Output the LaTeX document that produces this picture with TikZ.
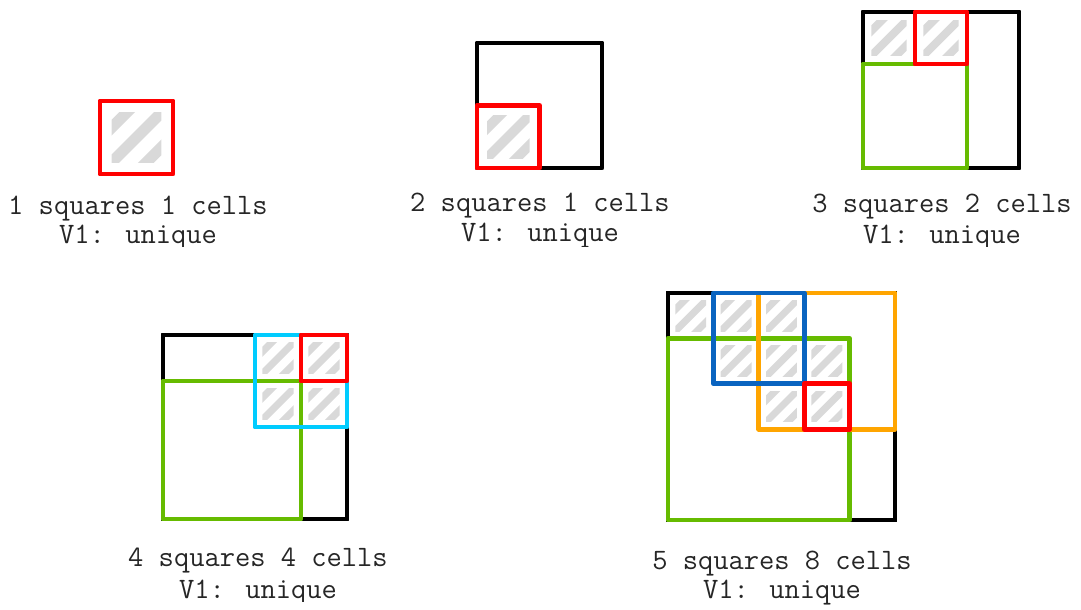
\documentclass[tikz,border=0pt]{standalone}
\usepackage{fontspec}

\definecolor{sqred}{HTML}{FF0000}
\definecolor{sqgreen}{HTML}{66BB00}
\definecolor{sqcyan}{HTML}{00CCFF}
\definecolor{sqblue}{HTML}{0A64C0}
\definecolor{sqorange}{HTML}{FFA500}
\definecolor{hatchgray}{HTML}{D9D9D9}

\tikzset{
  sq/.style = {line width = 4.2pt, line join = round},
  caption/.style = {anchor = base, inner sep = 0pt, text = black!85,
                    font = \fontsize{25.3}{29}\selectfont\ttfamily},
}

% hatched cell, top left corner at (#1,#2) in cell units
\newcommand{\hcell}[2]{%
  \begin{scope}
    \clip (#1+0.16,#2+0.16) rectangle (#1+0.84,#2+0.84);
    \foreach \a/\b in {-0.585/-0.367, -0.109/0.109, 0.367/0.585}
      \fill[hatchgray] ({#1+0.5+\a/2-1},{#2+0.5+\a/2+1}) -- ({#1+0.5+\a/2+1},{#2+0.5+\a/2-1})
                    -- ({#1+0.5+\b/2+1},{#2+0.5+\b/2-1}) -- ({#1+0.5+\b/2-1},{#2+0.5+\b/2+1}) -- cycle;
  \end{scope}}

\begin{document}
\begin{tikzpicture}[x = 0.03cm, y = -0.03cm]
        \useasboundingbox (0,0) rectangle (1081,609);

        % 1 square
        \begin{scope}[shift = {(100,101)}, x = 2.19cm, y = -2.19cm]
            \hcell{0}{0}
            \draw[sq, sqred] (0,0) rectangle (1,1);
        \end{scope}

        % 2 squares
        \begin{scope}[shift = {(477,43)}, x = 1.875cm, y = -1.875cm]
            \hcell{0}{1}
            \draw[sq, black] (0,0) rectangle (2,2);
            \draw[sq, sqred] (0,1) rectangle (1,2);
        \end{scope}

        % 3 squares
        \begin{scope}[shift = {(863,12)}, x = 1.56cm, y = -1.56cm]
            \foreach \i in {0,1} \hcell{\i}{0}
            \draw[sq, black]   (0,0) rectangle (3,3);
            \draw[sq, sqgreen] (0,1) rectangle (2,3);
            \draw[sq, sqred]   (1,0) rectangle (2,1);
        \end{scope}

        % 4 squares
        \begin{scope}[shift = {(163,335)}, x = 1.38cm, y = -1.38cm]
            \foreach \i/\j in {2/0, 3/0, 2/1, 3/1} \hcell{\i}{\j}
            \draw[sq, black]   (0,0) rectangle (4,4);
            \draw[sq, sqgreen] (0,1) rectangle (3,4);
            \draw[sq, sqcyan]  (2,0) rectangle (4,2);
            \draw[sq, sqred]   (3,0) rectangle (4,1);
        \end{scope}

        % 5 squares
        \begin{scope}[shift = {(668,293)}, x = 1.362cm, y = -1.362cm]
            \foreach \i/\j in {0/0, 1/0, 2/0, 1/1, 2/1, 3/1, 2/2, 3/2} \hcell{\i}{\j}
            \draw[sq, black]    (0,0) rectangle (5,5);
            \draw[sq, sqgreen]  (0,1) rectangle (4,5);
            \draw[sq, sqorange] (2,0) rectangle (5,3);
            \draw[sq, sqblue]   (1,0) rectangle (3,2);
            \draw[sq, sqred]    (3,2) rectangle (4,3);
        \end{scope}

        % captions (cut off at the bottom as in the screenshot)
        \begin{scope}
            \clip (0,0) rectangle (1081,246);
            \node[caption] (t1) at (138,214) {1 squares 1 cells};
            \node[caption] (v1) at (138,243) {V1: unique};
            \node[caption] (t2) at (540,211) {2 squares 1 cells};
            \node[caption] (v2) at (540,241) {V1: unique};
            \node[caption] (t3) at (942,212) {3 squares 2 cells};
            \node[caption] (v3) at (942,243) {V1: unique};
        \end{scope}
        \begin{scope}
            \clip (0,246) rectangle (520,601);
            \node[caption] (t4) at (258,566) {4 squares 4 cells};
            \node[caption] (v4) at (258,598) {V1: unique};
        \end{scope}
        \node[caption] (t5) at (782,569) {5 squares 8 cells};
        \node[caption] (v5) at (782,598) {V1: unique};
\end{tikzpicture}
\end{document}
